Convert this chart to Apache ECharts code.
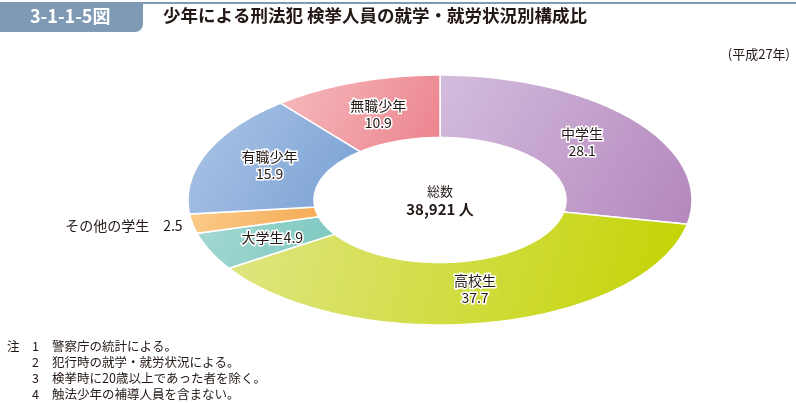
<!DOCTYPE html>
<html><head><meta charset="utf-8">
<script src="https://cdn.jsdelivr.net/npm/echarts@6/dist/echarts.min.js"></script>
<style>html,body{margin:0;padding:0;background:#fff}#c{width:796px;height:403px}</style>
</head><body><div id="c"></div>
<script>
// ---- data ----
const categories = ['中学生', '高校生', '大学生', 'その他の学生', '有職少年', '無職少年'];
const shares = [28.1, 37.7, 4.9, 2.5, 15.9, 10.9];
const totalLabel = '総数';
const totalValue = '38,921 人';
const figNo = '3-1-1-5図';
const titleText = '少年による刑法犯 検挙人員の就学・就労状況別構成比';
const yearText = '(平成27年)';
const noteNums = ['1', '2', '3', '4'];
const noteTexts = ['警察庁の統計による。', '犯行時の就学・就労状況による。', '検挙時に20歳以上であった者を除く。', '触法少年の補導人員を含まない。'];

// ---- styles ----
const sliceColors = [
  ['#d3bddd', '#b487bd'],
  ['#dfe684', '#c3d300'],
  ['#a6d9d3', '#79c7bf'],
  ['#fbcb8a', '#f5ab55'],
  ['#aec6e7', '#779fd3'],
  ['#f5bcbe', '#ec828c']
];
const labelModes = ['two', 'two', 'one', 'outside', 'two', 'two'];
const FONT = '"Noto Sans CJK JP","Noto Sans",sans-serif';
const CX = 440, CY = 200, RX = 252, RY = 125, INNER = 0.5, LBL = 0.73;

// build data [start, value]
const pieData = [];
let acc = 0;
for (let i = 0; i < shares.length; i++) { pieData.push([acc, shares[i], i]); acc += shares[i]; }
const total = acc;

function renderItem(params, api) {
  const start = api.value(0), val = api.value(1), idx = params.dataIndex;
  const a0 = start / total * 2 * Math.PI, a1 = (start + val) / total * 2 * Math.PI;
  const n = Math.max(6, Math.ceil(val * 4));
  const pts = [];
  for (let i = 0; i <= n; i++) { const a = a0 + (a1 - a0) * i / n; pts.push([CX + RX * Math.sin(a), CY - RY * Math.cos(a)]); }
  for (let i = n; i >= 0; i--) { const a = a0 + (a1 - a0) * i / n; pts.push([CX + RX * INNER * Math.sin(a), CY - RY * INNER * Math.cos(a)]); }
  const c = sliceColors[idx];
  const children = [{
    type: 'polygon', shape: { points: pts },
    style: { fill: { type: 'linear', x: 0, y: 0, x2: 1, y2: 1, colorStops: [{ offset: 0, color: c[0] }, { offset: 1, color: c[1] }] }, stroke: '#fff', lineWidth: 1.5 }
  }];
  const am = (a0 + a1) / 2;
  const mode = labelModes[idx];
  const name = categories[idx];
  const vtxt = val.toFixed(1);
  if (mode === 'outside') {
    children.push({ type: 'text', z2: 20, x: CX + RX * Math.sin(am) - 10, y: CY - RY * Math.cos(am) + 2,
      style: { text: name + '\u3000' + vtxt, fill: '#231815', font: '14px ' + FONT, align: 'right', verticalAlign: 'middle' } });
  } else {
    const tx = CX + RX * LBL * Math.sin(am), ty = CY - RY * LBL * Math.cos(am);
    children.push({ type: 'text', z2: 20, x: tx, y: ty,
      style: { text: mode === 'two' ? name + '\n' + vtxt : name + vtxt, fill: '#231815', font: '14px ' + FONT,
        lineHeight: 17, align: 'center', verticalAlign: 'middle', stroke: '#fff', lineWidth: 3 } });
  }
  return { type: 'group', children: children };
}

const graphics = [
  { type: 'rect', left: 0, top: 2, shape: { width: 796, height: 2 }, style: { fill: '#7f9ab5' } },
  { type: 'rect', left: 0, top: 3, shape: { width: 143, height: 29, r: [0, 0, 8, 0] }, style: { fill: '#7f9ab5' } },
  { type: 'text', left: 30, top: 7, style: { text: figNo, fill: '#fff', font: 'bold 18px ' + FONT } },
  { type: 'text', left: 163, top: 7, style: { text: titleText, fill: '#231815', font: 'bold 17.5px ' + FONT } },
  { type: 'text', right: 6, top: 48, style: { text: yearText, fill: '#231815', font: '13px ' + FONT } },
  { type: 'text', x: CX, y: 191, style: { text: totalLabel, fill: '#231815', font: '13px ' + FONT, align: 'center', verticalAlign: 'middle' } },
  { type: 'text', x: CX, y: 209, style: { text: totalValue, fill: '#231815', font: 'bold 15px ' + FONT, align: 'center', verticalAlign: 'middle' } },
  { type: 'text', x: 7, y: 346, style: { text: '注', fill: '#231815', font: '12.5px ' + FONT, verticalAlign: 'middle' } }
];
noteNums.forEach(function (num, i) {
  const y = 346 + i * 16;
  graphics.push({ type: 'text', x: 32, y: y, style: { text: num, fill: '#231815', font: '12.5px ' + FONT, verticalAlign: 'middle' } });
  graphics.push({ type: 'text', x: 52, y: y, style: { text: noteTexts[i], fill: '#231815', font: '12.5px ' + FONT, verticalAlign: 'middle' } });
});

const chart = echarts.init(document.getElementById('c'), null, { renderer: 'canvas' });
chart.setOption({
  animation: false,
  backgroundColor: '#fff',
  graphic: graphics,
  series: [{ type: 'custom', coordinateSystem: 'none', renderItem: renderItem, data: pieData }]
});
</script></body></html>
